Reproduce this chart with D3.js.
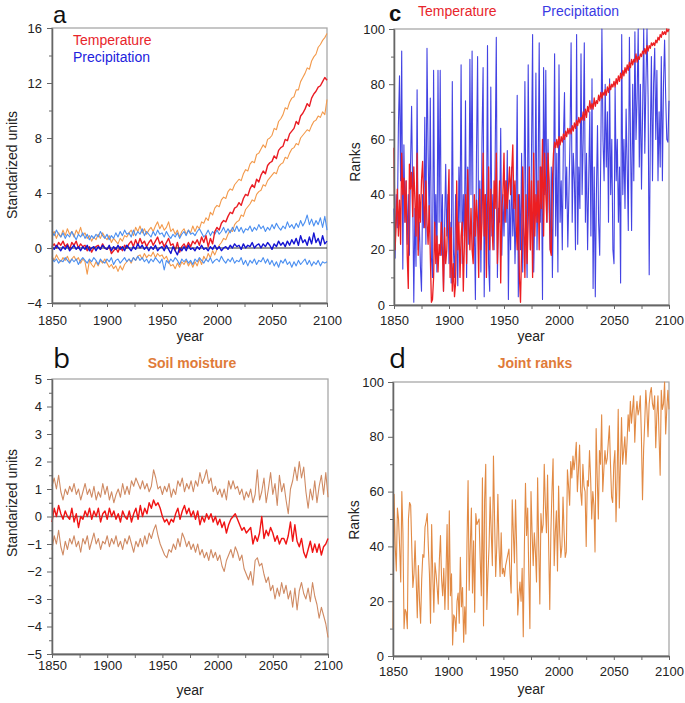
<!DOCTYPE html>
<html><head><meta charset="utf-8">
<script src="https://cdn.jsdelivr.net/npm/d3@7"></script>
<style>
body{margin:0;background:#fff;}
svg{display:block;font-family:"Liberation Sans",Arial,sans-serif;}
</style></head><body>
<svg id="chart" width="685" height="703"></svg>
<script>
// ---------- DATA ----------
// Panel a/b series sampled every 2 years, 1850..2100
const yearsBiennial = d3.range(1850, 2101, 2);
// Panel c/d series yearly, 1850..2100
const yearsAnnual = d3.range(1850, 2101, 1);

const xTickMajor = [1850, 1900, 1950, 2000, 2050, 2100];
const xTickMinor = [1875, 1925, 1975, 2025, 2075];

// Panel a: temperature (standardized units)
const tempMean = [
 0.1,0.3,0.0,0.4,0.2, 0.5,0.1,0.3,-0.1,0.4, 0.2,0.5,0.0,0.3,0.1, 0.2,-0.2,0.1,-0.3,0.0,
 0.1,0.2,-0.1,0.3,0.0, -0.1,0.1,-0.4,-0.2,0.0, -0.3,0.1,-0.2,0.2,0.0, 0.3,0.5,0.1,0.6,0.2,
 0.7,0.3,0.5,0.1,0.4, 0.6,0.2,0.5,0.8,0.3, 0.5,0.1,0.4,0.7,0.2, 0.3,-0.2,0.4,-0.3,0.1,
 0.3,0.0,0.4,0.1,0.5, 0.3,0.6,0.2,0.8,0.4, 0.9,0.1,0.7,0.3,1.2, 1.5,1.3,1.8,2.0,1.9,
 2.3,2.6,2.5,2.9,3.0, 3.3,3.1,3.6,3.9,3.8, 4.3,4.6,4.4,5.0,4.8, 5.3,5.6,5.4,6.0,6.2,
 6.3,6.7,6.5,7.1,7.3, 7.4,7.9,7.8,8.3,8.5, 8.7,9.2,9.0,9.6,9.8, 10.1,10.5,10.3,10.9,11.2,
 11.4,11.7,11.8,12.1,12.4, 12.2];
const tempUpper = [
 0.9,1.2,0.7,1.1,0.8, 1.3,0.9,1.4,1.0,1.2, 0.8,1.3,1.0,1.5,0.9, 1.1,0.7,0.9,0.5,0.8,
 0.6,1.0,0.7,1.1,0.8, 0.6,0.9,0.4,0.7,0.5, 0.3,0.7,0.5,0.9,0.8, 1.1,1.3,0.9,1.5,1.2,
 1.6,1.1,1.4,1.0,1.3, 1.5,1.2,1.6,1.9,1.4, 1.7,1.3,1.5,1.9,1.2, 1.4,1.0,1.3,0.8,1.2,
 1.4,1.0,1.3,1.1,1.6, 1.2,1.6,1.4,1.9,1.8, 2.2,2.0,2.6,2.4,2.9, 3.1,3.0,3.5,3.7,3.6,
 4.1,4.3,4.2,4.6,4.8, 5.0,4.9,5.4,5.7,5.6, 6.1,6.3,6.2,6.8,6.9, 7.2,7.5,7.3,7.9,8.0,
 8.2,8.7,8.6,9.2,9.4, 9.7,10.2,10.1,10.6,10.9, 11.0,11.5,11.5,12.1,12.4, 12.7,13.1,13.0,13.6,13.9,
 14.1,14.6,14.8,15.1,15.3, 15.6];
const tempLower = [
 -0.6,-0.9,-0.5,-0.8,-1.0, -0.7,-0.9,-0.6,-1.0,-0.8, -0.6,-0.9,-0.7,-1.1,-0.8, -1.0,-1.9,-0.9,-1.2,-1.4,
 -1.0,-1.3,-0.9,-1.1,-0.8, -1.1,-1.4,-1.2,-1.5,-1.3, -1.7,-1.3,-1.6,-1.2,-1.0, -0.8,-1.1,-0.7,-0.9,-0.6,
 -0.5,-0.8,-0.4,-0.7,-0.5, -0.6,-0.3,-0.7,-0.4,-0.6, -0.5,-0.8,-0.6,-1.0,-1.3, -1.2,-1.5,-1.1,-1.4,-1.0,
 -1.2,-0.9,-1.3,-1.0,-1.4, -1.0,-1.3,-0.8,-1.2,-0.6, -0.9,-0.4,-0.7,-0.2,-0.5, -0.1,0.2,0.4,0.7,0.6,
 1.0,1.3,1.2,1.7,1.9, 2.0,2.4,2.3,2.8,3.0, 3.2,3.5,3.4,3.9,4.1, 4.2,4.6,4.5,4.9,5.1,
 5.3,5.5,5.4,5.9,6.1, 6.2,6.6,6.5,6.9,7.2, 7.3,7.6,7.5,8.0,8.2, 8.4,8.6,8.5,8.9,9.2,
 9.3,9.6,9.5,9.9,9.7, 10.8];
// Panel a: precipitation (standardized units)
const precMean = [
 0.1,-0.1,0.2,0.0,-0.2, 0.1,-0.1,0.2,-0.2,0.0, 0.2,-0.1,0.1,-0.2,0.1, -0.1,0.2,-0.2,0.0,0.1,
 -0.2,0.1,-0.1,0.2,0.0, -0.1,0.2,-0.2,0.1,-0.1, 0.2,-0.1,0.1,-0.2,0.2, 0.0,-0.2,0.1,-0.1,0.3,
 0.0,0.2,-0.1,0.1,-0.2, 0.1,-0.1,0.2,-0.2,0.0, 0.1,-0.2,0.2,-0.1,-0.4, 0.1,-0.2,-0.5,0.0,-0.2,
 0.1,-0.2,0.2,-0.1,0.0, -0.2,0.1,-0.1,0.2,-0.1, 0.0,-0.2,0.1,-0.1,0.2, -0.1,0.1,-0.2,0.0,0.1,
 -0.1,0.2,0.0,0.3,0.1, 0.2,-0.1,0.3,0.0,0.2, 0.1,0.4,0.0,0.2,0.3, 0.0,0.3,0.1,0.4,0.2,
 -0.1,0.3,0.1,0.5,0.2, 0.4,0.1,0.5,0.2,0.6, 0.3,0.7,0.2,0.9,0.4, 0.6,0.2,0.8,0.3,1.1,
 0.4,0.7,0.2,0.9,0.3, 0.5];
const precUpper = [
 1.2,0.9,1.3,1.0,0.8, 1.1,0.7,1.0,0.8,1.2, 0.9,0.6,1.0,0.8,1.1, 0.7,1.0,0.6,0.9,0.7,
 1.0,0.8,1.2,0.9,0.7, 1.0,0.6,0.9,0.7,1.1, 0.8,1.2,0.9,1.3,1.0, 1.1,0.8,1.3,0.9,1.2,
 1.0,1.4,0.9,1.2,1.0, 0.8,1.2,0.9,1.3,1.0, 1.1,0.8,1.2,0.9,0.7, 1.0,0.8,1.1,0.7,1.0,
 1.2,0.9,1.3,1.0,1.1, 0.9,1.2,1.4,1.1,0.8, 1.0,1.3,0.9,1.2,1.0, 1.3,1.0,1.2,1.5,1.1,
 1.4,1.1,1.5,1.2,1.6, 1.2,1.5,1.1,1.4,1.3, 1.6,1.2,1.5,1.3,1.7, 1.4,1.6,1.2,1.5,1.3,
 1.7,1.4,1.8,1.5,1.3, 1.6,1.4,1.9,1.5,1.7, 1.4,1.8,1.5,2.0,1.6, 1.9,2.4,1.7,2.1,1.6,
 2.0,1.7,2.2,1.5,2.3, 1.3];
const precLower = [
 -0.7,-1.0,-0.8,-1.1,-0.9, -1.0,-0.7,-0.9,-1.1,-0.8, -1.0,-0.8,-1.2,-0.9,-0.7, -0.9,-1.1,-0.8,-1.0,-0.7,
 -0.9,-1.2,-0.8,-1.0,-1.1, -0.8,-1.0,-0.7,-1.2,-0.9, -0.8,-1.1,-0.9,-0.7,-1.0, -0.8,-1.0,-0.7,-0.9,-0.6,
 -0.9,-0.7,-1.0,-0.8,-1.1, -0.8,-1.0,-0.7,-0.9,-1.1, -0.8,-1.6,-0.9,-1.1,-0.8, -1.0,-0.7,-0.9,-1.2,-0.8,
 -1.0,-0.8,-1.1,-0.9,-1.2, -0.8,-1.0,-0.7,-0.9,-1.1, -0.8,-1.0,-0.7,-1.1,-0.9, -0.8,-1.0,-0.6,-0.9,-1.1,
 -0.8,-1.0,-0.7,-1.1,-0.9, -1.0,-0.7,-1.2,-0.9,-1.3, -0.9,-1.1,-0.8,-1.2,-0.9, -1.0,-0.7,-1.1,-0.8,-1.2,
 -0.9,-1.3,-1.0,-1.4,-0.9, -1.1,-0.8,-1.2,-1.0,-1.4, -1.0,-1.3,-0.9,-1.2,-1.0, -0.8,-1.2,-0.9,-1.3,-1.0,
 -1.2,-0.9,-1.3,-1.0,-1.1, -1.0];

// Panel b: soil moisture (standardized units)
const soilMean = [
 -0.2,0.3,0.0,0.4,0.1, -0.1,0.2,0.0,-0.1,0.3, -0.2,0.1,-0.4,0.0,-0.1, 0.2,0.0,0.3,-0.1,0.2,
 0.0,0.3,-0.2,0.1,0.2, -0.1,0.3,0.0,0.2,-0.1, 0.1,-0.2,0.2,0.0,-0.1, 0.2,-0.2,0.1,0.3,-0.1,
 0.4,0.0,0.3,0.1,0.5, 0.3,0.6,0.4,0.5,0.3, 0.0,-0.2,-0.1,-0.3,-0.1, -0.2,0.1,0.3,-0.1,0.2,
 0.4,0.1,0.3,0.0,0.2, -0.1,0.2,-0.3,0.0,-0.2, 0.1,-0.1,0.1,-0.2,0.0, -0.3,-0.1,-0.4,-0.2,-0.6,
 -0.3,-0.1,0.0,0.1,-0.1, -0.3,-0.5,-0.4,-0.6,-0.5, -0.4,-1.0,-0.7,-0.9,-0.6, 0.0,-0.8,-0.5,-0.7,-0.4,
 -0.6,-0.9,-0.7,-1.0,-0.8, -0.8,-1.0,-0.7,-0.2,-0.9, -0.3,-0.9,-1.1,-0.8,-1.3, -1.5,-1.2,-0.9,-1.3,-1.0,
 -1.3,-1.0,-1.4,-1.1,-1.0, -0.8];
const soilUpper = [
 1.1,1.4,1.0,1.5,0.9, 0.6,1.0,0.8,1.1,0.9, 1.2,0.8,1.0,0.6,0.9, 1.2,0.8,1.0,0.7,1.1,
 0.6,0.9,0.7,1.2,0.8, 1.1,0.6,0.9,0.5,0.8, 1.0,0.7,1.2,0.8,1.1, 0.8,1.3,1.1,1.4,1.2,
 1.0,1.3,1.0,1.2,0.9, 1.1,1.7,1.4,1.0,1.1, 0.8,1.1,0.9,1.2,0.7, 1.0,0.8,1.3,1.1,1.4,
 0.9,1.2,1.0,1.3,0.9, 1.3,1.1,1.6,1.2,1.4, 1.7,1.2,1.4,0.9,1.1, 0.8,1.0,0.7,1.0,0.6,
 1.3,1.0,1.3,1.0,1.1, 0.8,1.0,0.6,0.9,0.7, 1.0,0.5,0.8,1.7,0.6, 0.9,1.4,0.5,1.0,1.6,
 0.8,1.2,0.4,1.5,0.9, 1.2,0.6,0.1,1.0,1.3, 1.8,1.3,2.0,1.4,1.8, 0.9,0.3,1.0,0.6,1.3,
 0.5,1.1,1.5,0.8,1.6, 0.7];
const soilLower = [
 -1.2,-0.7,-1.0,-0.5,-1.1, -1.4,-0.9,-1.2,-0.8,-1.0, -0.7,-1.1,-0.9,-1.3,-0.8, -1.0,-0.7,-1.2,-0.9,-0.6,
 -1.0,-0.8,-1.2,-0.9,-1.0, -0.7,-1.1,-0.8,-1.0,-0.7, -1.1,-0.9,-1.2,-0.8,-1.0, -0.7,-1.0,-1.3,-0.9,-1.1,
 -0.8,-1.1,-0.7,-1.0,-0.6, -0.8,-0.5,-0.3,-0.7,-1.0, -1.2,-1.4,-1.5,-1.2,-1.3, -1.0,-1.2,-0.8,-1.1,-0.6,
 -0.8,-1.1,-0.9,-1.2,-1.0, -1.3,-1.0,-1.4,-1.2,-1.5, -1.3,-1.6,-1.2,-1.5,-1.3, -1.6,-1.4,-1.8,-2.0,-1.6,
 -1.4,-1.2,-1.5,-1.1,-1.3, -1.6,-1.4,-1.9,-2.1,-2.3, -2.0,-2.5,-1.6,-1.5,-1.8, -1.7,-2.1,-2.4,-2.2,-2.7,
 -2.5,-3.0,-2.6,-2.9,-2.4, -2.8,-2.5,-3.0,-2.7,-3.3, -2.6,-3.4,-2.7,-2.4,-2.8, -3.0,-2.6,-3.1,-2.4,-2.9,
 -3.2,-3.7,-3.3,-3.6,-3.9, -4.4];

// Panel c: ranks (yearly)
const tempRank = [
 57,20,30,42,25,38,22,55,40,46,
 30,45,18,6,51,42,48,32,50,38,
 25,55,18,40,30,45,52,38,28,45,
 30,22,36,18,1,2,10,30,15,25,
 12,22,18,30,20,5,28,15,20,35,
 49,10,28,5,15,3,8,45,20,30,
 10,25,30,5,22,40,15,49,30,20,
 35,20,15,40,25,38,30,10,42,20,
 30,55,25,40,10,35,50,20,42,30,
 20,45,35,55,15,30,45,8,35,40,
 55,30,45,35,42,50,40,48,58,35,
 45,30,20,40,10,1,20,50,30,10,
 40,15,30,50,20,45,10,55,25,40,
 30,45,20,50,35,60,25,55,40,30,
 55,45,20,18,45,
 55,59,57,60,57,61,58,61,59,62,
 60,63,61,64,62,64,62,65,63,66,
 64,67,65,68,66,68,67,70,67,71,
 68,72,70,74,71,73,71,75,72,74,
 73,76,74,77,75,77,76,78,76,79,
 77,80,78,80,79,81,79,82,80,83,
 81,84,82,85,83,86,84,87,85,88,
 86,89,87,89,88,91,88,90,89,91,
 90,92,91,93,91,94,92,94,93,95,
 94,95,94,96,95,97,96,98,97,99,
 98,99,98,100,99,100];
const precRank = [
 35,17,40,28,65,83,45,92,13,58,
 30,45,22,40,18,50,72,40,1,35,
 14,78,20,30,14,5,40,28,68,22,
 93,55,30,75,17,10,85,22,40,12,
 85,30,85,18,40,5,28,51,25,40,
 15,30,8,81,20,10,40,22,7,50,
 30,87,15,40,25,74,10,50,22,89,
 40,92,18,30,2,55,90,20,45,12,
 60,86,3,40,22,94,15,5,79,25,
 40,20,55,97,10,35,30,64,18,40,
 25,45,30,56,2,38,20,50,25,40,
 15,35,76,3,40,20,55,12,35,81,
 30,10,87,40,20,55,98,12,35,84,
 20,45,95,30,50,2,86,40,85,30,
 60,35,20,50,10,40,91,25,55,12,
 87,30,45,20,60,77,35,50,21,40,
 60,95,30,55,45,20,98,22,50,35,
 91,40,60,95,30,55,20,45,70,25,
 82,6,50,3,40,65,30,18,55,100,
 60,45,80,50,70,30,82,40,60,20,
 15,79,45,60,30,50,8,98,40,60,
 35,71,50,27,97,60,27,80,45,99,
 60,75,100,50,80,42,70,100,55,80,
 100,75,11,60,90,45,80,93,60,85,
 45,70,50,90,45,80,96,75,60,59,74];

// Panel d: joint ranks (yearly)
const jointRank = [
 10,59,40,31,54,50,40,27,60,45,
 10,17,16,10,50,56,55,40,25,30,
 42,28,14,33,20,12,28,37,36,47,
 49,52,40,30,12,48,30,16,34,30,
 25,19,35,44,28,22,32,17,30,48,
 17,53,22,30,4,15,14,9,20,23,
 12,36,18,25,5,18,8,41,64,24,
 40,54,23,42,16,52,48,49,50,35,
 22,65,11,57,70,17,30,40,58,45,
 33,73,50,29,40,59,40,29,45,30,
 32,29,33,35,37,39,30,23,57,45,
 34,57,40,15,22,27,20,32,7,40,
 63,44,54,30,10,60,45,33,45,38,
 27,65,40,19,52,45,48,70,55,45,
 66,40,17,45,60,72,33,45,53,31,
 62,45,36,40,58,45,36,38,68,62,
 55,71,65,73,68,72,78,60,68,77,
 60,55,70,62,60,40,64,62,75,65,
 50,60,55,38,83,65,50,75,70,88,
 60,68,75,70,72,78,84,70,58,56,
 70,75,49,65,90,54,70,87,70,75,
 80,70,78,88,82,93,85,90,95,78,
 88,93,88,90,95,80,57,75,85,97,
 90,80,92,96,98,92,90,95,76,88,
 95,80,66,97,90,92,100,81,90,97,90];

// ---------- DRAWING ----------
const svg = d3.select("#chart");

function panel(box, yDomain, yMajor, yMinor, xPad, yPad) {
  const x = d3.scaleLinear().domain([1850, 2100]).range([box.l, box.r]);
  const y = d3.scaleLinear().domain(yDomain).range([box.b, box.t]);
  const g = svg.append("g");
  g.append("rect")
    .attr("x", box.l).attr("y", box.t)
    .attr("width", box.r - box.l).attr("height", box.b - box.t)
    .attr("fill", "none").attr("stroke", "#a8a8a8").attr("stroke-width", 1.3);
  const lines = g.append("g");
  const axL = g.append("g").attr("transform", `translate(${box.l},0)`)
    .call(d3.axisLeft(y).tickValues(yMajor).tickSize(5).tickSizeOuter(0).tickPadding(yPad));
  const axLm = g.append("g").attr("transform", `translate(${box.l},0)`)
    .call(d3.axisLeft(y).tickValues(yMinor).tickSize(3).tickSizeOuter(0).tickFormat(""));
  const axB = g.append("g").attr("transform", `translate(0,${box.b})`)
    .call(d3.axisBottom(x).tickValues(xTickMajor).tickSize(4).tickSizeOuter(0).tickPadding(xPad).tickFormat(d3.format("d")));
  const axBm = g.append("g").attr("transform", `translate(0,${box.b})`)
    .call(d3.axisBottom(x).tickValues(xTickMinor).tickSize(4).tickSizeOuter(0).tickFormat(""));
  [axL, axLm, axB, axBm].forEach(a => {
    a.select(".domain").attr("stroke", "#666").attr("stroke-width", 1.3);
    a.selectAll(".tick line").attr("stroke", "#666").attr("stroke-width", 1);
    a.selectAll("text").attr("font-size", 13).attr("fill", "#222")
      .attr("font-family", '"Liberation Sans", Arial, sans-serif');
  });
  return {x, y, lines, g};
}

function drawLine(p, years, vals, color, width, opacity) {
  const gen = d3.line().x((d, i) => p.x(years[i])).y(d => p.y(d));
  p.lines.append("path").datum(vals)
    .attr("d", gen).attr("fill", "none")
    .attr("stroke", color).attr("stroke-width", width)
    .attr("stroke-opacity", opacity == null ? 1 : opacity)
    .attr("stroke-linejoin", "round");
}
function hLine(p, v, color, width) {
  const [a, b] = p.x.range();
  p.lines.append("line").attr("x1", a).attr("x2", b)
    .attr("y1", p.y(v)).attr("y2", p.y(v))
    .attr("stroke", color).attr("stroke-width", width);
}
function text(str, x, y, opts) {
  const t = svg.append("text").attr("x", x).attr("y", y).text(str)
    .attr("font-size", opts.size || 14).attr("fill", opts.color || "#222");
  if (opts.anchor) t.attr("text-anchor", opts.anchor);
  if (opts.weight) t.attr("font-weight", opts.weight);
  if (opts.family) t.attr("font-family", opts.family);
  if (opts.rotate) t.attr("transform", `rotate(-90,${x},${y})`);
  return t;
}

// Panel a
const pa = panel({l: 52, r: 327, t: 28, b: 303}, [-4, 16],
  [-4, 0, 4, 8, 12, 16], [-2, 2, 6, 10, 14], 9, 5);
drawLine(pa, yearsBiennial, tempUpper, "#f39a4c", 1.1);
drawLine(pa, yearsBiennial, tempLower, "#f39a4c", 1.1);
drawLine(pa, yearsBiennial, precUpper, "#4b8ff0", 1.1);
drawLine(pa, yearsBiennial, precLower, "#4b8ff0", 1.1);
drawLine(pa, yearsBiennial, tempMean, "#ea1c24", 1.4);
hLine(pa, 0, "#333", 1.2);
drawLine(pa, yearsBiennial, precMean, "#1414d2", 1.4);

// Panel c
const pc = panel({l: 394, r: 669, t: 29, b: 305}, [0, 100],
  [0, 20, 40, 60, 80, 100], [10, 30, 50, 70, 90], 7, 4);
drawLine(pc, yearsAnnual, precRank, "#2f2fe0", 1.1, 0.9);
drawLine(pc, yearsAnnual, tempRank, "#ec1e22", 1.3);

// Panel b
const pb = panel({l: 52, r: 328, t: 379, b: 654}, [-5, 5],
  [-5, -4, -3, -2, -1, 0, 1, 2, 3, 4, 5],
  [-4.5, -3.5, -2.5, -1.5, -0.5, 0.5, 1.5, 2.5, 3.5, 4.5], 3, 5);
hLine(pb, 0, "#7a7a7a", 1.6);
drawLine(pb, yearsBiennial, soilUpper, "#cf8a63", 1.1);
drawLine(pb, yearsBiennial, soilLower, "#cf8a63", 1.1);
drawLine(pb, yearsBiennial, soilMean, "#f01414", 1.4);

// Panel d
const pd = panel({l: 393, r: 669, t: 382, b: 656}, [0, 100],
  [0, 20, 40, 60, 80, 100], [10, 30, 50, 70, 90], 7, 4);
drawLine(pd, yearsAnnual, jointRank, "#e28a44", 1.1);

// Texts
const letterFont = '"Liberation Sans", Arial, sans-serif';
text("a", 53, 23, {size: 24, color: "#111", family: letterFont});
text("b", 53, 368, {size: 28, color: "#111", family: '"Open Sans", "Liberation Sans", sans-serif'});
text("c", 389, 21, {size: 22, color: "#111", weight: "bold", family: letterFont});
text("d", 389, 368, {size: 28, color: "#111", family: '"Open Sans", "Liberation Sans", sans-serif'});

text("Temperature", 73, 45, {size: 14, color: "#e8252b"});
text("Precipitation", 73, 62, {size: 14, color: "#2222dd"});
text("Temperature", 418, 16, {size: 14, color: "#e8252b"});
text("Precipitation", 542, 16, {size: 14, color: "#3a3ae3"});
text("Soil moisture", 192, 368, {size: 14, color: "#e07b39", weight: "bold", anchor: "middle"});
text("Joint ranks", 535, 368, {size: 14, color: "#e07b39", weight: "bold", anchor: "middle"});

text("Standarized units", 17, 165, {size: 14, anchor: "middle", rotate: true});
text("Standarized units", 17, 503, {size: 14, anchor: "middle", rotate: true});
text("Ranks", 360, 162, {size: 14, anchor: "middle", rotate: true});
text("Ranks", 359, 520, {size: 14, anchor: "middle", rotate: true});

text("year", 190, 341, {size: 14, anchor: "middle"});
text("year", 531, 341, {size: 14, anchor: "middle"});
text("year", 190, 695, {size: 14, anchor: "middle"});
text("year", 531, 694, {size: 14, anchor: "middle"});
</script>
</body></html>
